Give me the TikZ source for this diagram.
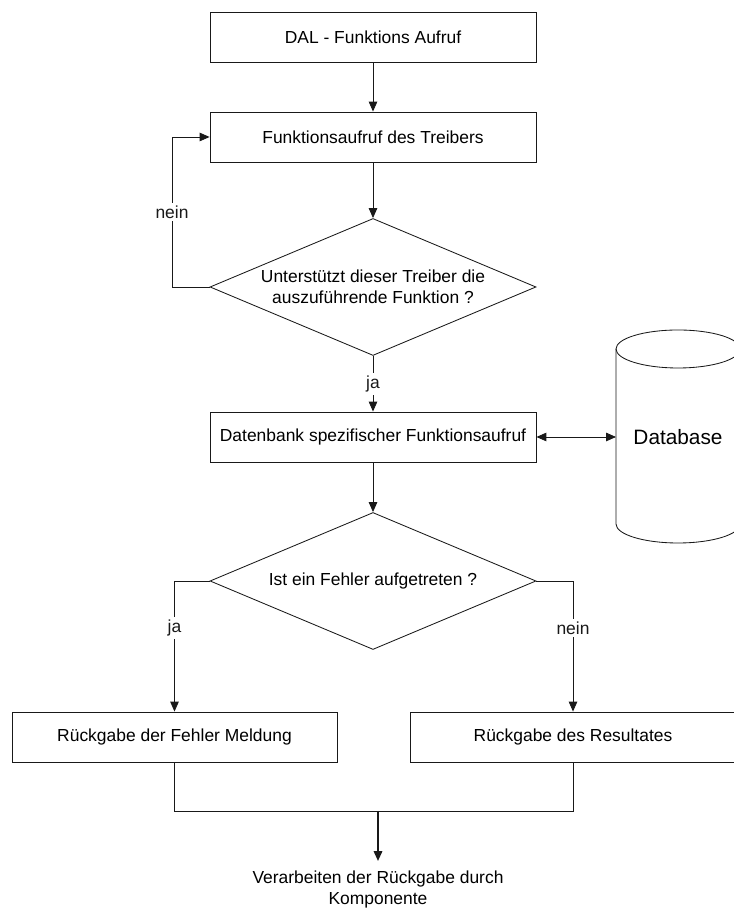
\documentclass[tikz,border=0pt]{standalone}
\usepackage{fontspec}
\setmainfont{Liberation Sans}
\usepackage{tikz}
\usetikzlibrary{shapes.geometric, arrows.meta, positioning}
\definecolor{mydark}{RGB}{25,25,25}
\newcommand{\flowfont}{\fontsize{12.4}{14.6}\selectfont}
\tikzset{
  block/.style={rectangle, draw=mydark, fill=white,
    minimum width=8.15cm, minimum height=1.25cm,
    align=center, font=\flowfont, line width=0.6pt},
  decision/.style={diamond, draw=mydark, fill=white, aspect=2.37,
    minimum width=8.15cm, minimum height=3.425cm, inner sep=0pt,
    align=center, font=\flowfont, line width=0.6pt},
  arrow/.style={-{Triangle[length=7pt,width=6pt]}, line width=0.6pt, color=mydark},
  thickarrow/.style={-{Triangle[length=7pt,width=6pt]}, line width=1.3pt, color=mydark},
  line/.style={line width=0.6pt, color=mydark},
  lbl/.style={fill=white, font=\flowfont, inner sep=2pt}
}

\begin{document}
\begin{tikzpicture}
  \useasboundingbox (0,0) rectangle (18.325,22.725);

  % main column
  \node[block] (dal) at (9.325,21.8) {DAL - Funktions Aufruf};
  \node[block] (treiber) at (9.325,19.3) {Funktionsaufruf des Treibers};
  \node[decision] (frage1) at (9.325,15.55) {Unterstützt dieser Treiber die\\auszuführende Funktion ?};
  \node[block] (dbcall) at (9.325,11.8) {Datenbank spezifischer Funktionsaufruf};
  \node[decision] (frage2) at (9.325,8.2) {Ist ein Fehler aufgetreten ?};
  \node[block, minimum width=8.125cm] (fehler) at (4.3625,4.3) {Rückgabe der Fehler Meldung};
  \node[block] (result) at (14.325,4.3) {Rückgabe des Resultates};
  \node[font=\flowfont, align=center, anchor=north, inner ysep=7pt] (ende) at (9.45,1.2) {Verarbeiten der Rückgabe durch\\Komponente};

  % database cylinder
  \draw[line, fill=white] (15.4,14.0) -- (15.4,9.625)
    arc[start angle=180, end angle=360, x radius=1.55cm, y radius=0.475cm]
    -- (18.5,14.0);
  \draw[line] (16.95,14.0) ellipse [x radius=1.55cm, y radius=0.475cm];
  \node[font=\fontsize{14.8}{17}\selectfont] (database) at (16.95,11.8) {Database};
  \coordinate (dbside) at (15.4,11.8);

  % connectors
  \draw[arrow] (dal) -- (treiber);
  \draw[arrow] (treiber) -- (frage1);
  \draw[arrow] (frage1.west) -- (4.3,15.55) -- node[lbl] {nein} (4.3,19.3) -- (treiber.west);
  \draw[arrow] (frage1.south) -- node[lbl] {ja} (dbcall.north);
  \draw[{Triangle[length=7pt,width=6pt]}-{Triangle[length=7pt,width=6pt]}, line width=0.6pt, color=mydark] (dbcall.east) -- (dbside);
  \draw[arrow] (dbcall) -- (frage2);
  \draw[arrow] (frage2.west) -| node[lbl, pos=0.68] {ja} (fehler.north);
  \draw[arrow] (frage2.east) -| node[lbl, pos=0.68] {nein} (result.north);

  % merge of both results
  \coordinate (merge) at (9.45,2.45);
  \draw[line] (fehler.south) -- (4.3625,2.45) -- (14.325,2.45) -- (result.south);
  \draw[thickarrow] (merge) -- (ende.north);
\end{tikzpicture}
\end{document}
